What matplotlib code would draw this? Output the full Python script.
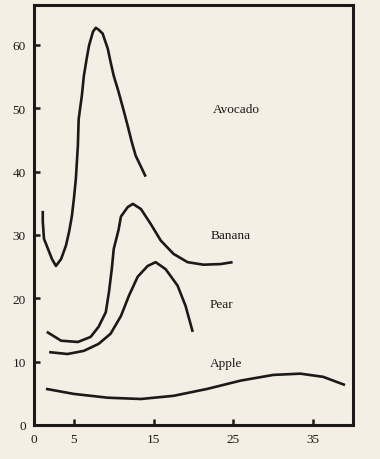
import matplotlib
matplotlib.use("Agg")
import matplotlib.pyplot as plt

# Data
avocado_x = [1.1, 1.1, 1.25, 1.75, 2.25, 2.75, 3.4, 4.0, 4.4, 4.75, 5.0, 5.25, 5.5, 5.6, 6.0, 6.25,
             6.6, 6.9, 7.4, 7.75, 8.1, 8.6, 9.25, 9.6, 10.0, 10.6, 11.25, 11.75, 12.25, 12.75, 13.4, 14.0]
avocado_y = [33.8, 32.1, 29.4, 27.8, 26.2, 25.1, 26.2, 28.3, 30.5, 33.0, 35.7, 38.9, 44.1, 48.3, 52.0, 55.1,
             57.8, 59.9, 62.1, 62.7, 62.4, 61.8, 59.4, 57.3, 55.1, 52.6, 49.6, 47.2, 44.7, 42.5, 40.8, 39.2]

banana_x = [1.6, 3.4, 5.5, 7.1, 8.1, 9.0, 9.4, 9.75, 10.0, 10.6, 10.9, 11.75, 12.4, 13.4, 14.6, 15.9,
            17.5, 19.25, 21.25, 23.4, 24.9]
banana_y = [14.7, 13.3, 13.1, 13.9, 15.5, 17.8, 21.0, 24.6, 27.8, 30.8, 32.9, 34.4, 34.9, 34.1, 31.8, 29.1,
            27.0, 25.7, 25.3, 25.4, 25.7]

pear_x = [1.9, 4.2, 6.25, 8.1, 9.6, 10.9, 11.9, 13.0, 14.25, 15.25, 16.5, 18.0, 19.0, 19.9]
pear_y = [11.5, 11.2, 11.7, 12.8, 14.4, 17.2, 20.4, 23.4, 25.1, 25.7, 24.6, 22.0, 18.8, 14.7]

apple_x = [1.5, 5.0, 9.25, 13.4, 17.5, 21.75, 25.9, 30.0, 33.4, 36.25, 39.0]
apple_y = [5.7, 4.9, 4.3, 4.1, 4.6, 5.7, 7.0, 7.9, 8.1, 7.6, 6.3]

labels = ["Avocado", "Banana", "Pear", "Apple"]
label_x = [22.4, 22.1, 22.0, 22.0]
label_y = [49.9, 30.0, 19.1, 9.8]

x_ticks = [0, 5, 15, 25, 35]
y_ticks = [0, 10, 20, 30, 40, 50, 60]

bg = "#f3efe4"
ink = "#1c1a18"
plt.rcParams['font.family'] = ['Liberation Serif', 'DejaVu Serif']

fig = plt.figure(figsize=(3.8, 4.6), dpi=100, facecolor=bg)
ax = fig.add_axes([0.0895, 0.074, 0.8395, 0.913], facecolor=bg)

for xs, ys in [(avocado_x, avocado_y), (banana_x, banana_y), (pear_x, pear_y), (apple_x, apple_y)]:
    ax.plot(xs, ys, color=ink, lw=1.9, solid_capstyle='butt', solid_joinstyle='round')

for t, lx, ly in zip(labels, label_x, label_y):
    ax.text(lx, ly, t, fontsize=9.5, color=ink, ha='left', va='center')

ax.set_xlim(0, 40)
ax.set_ylim(0, 66.3)
ax.set_xticks(x_ticks)
ax.set_xticklabels([str(v) for v in x_ticks])
ax.set_yticks(y_ticks)
ax.set_yticklabels([str(v) for v in y_ticks])
ax.tick_params(direction='in', length=4.5, width=1.8, color=ink, labelcolor=ink, labelsize=9.5, pad=6)
ax.xaxis.get_major_ticks()[0].tick1line.set_visible(False)
ax.yaxis.get_major_ticks()[0].tick1line.set_visible(False)
for s in ax.spines.values():
    s.set_linewidth(2.2)
    s.set_color(ink)

fig.savefig("out.png", dpi=100, facecolor=bg)
